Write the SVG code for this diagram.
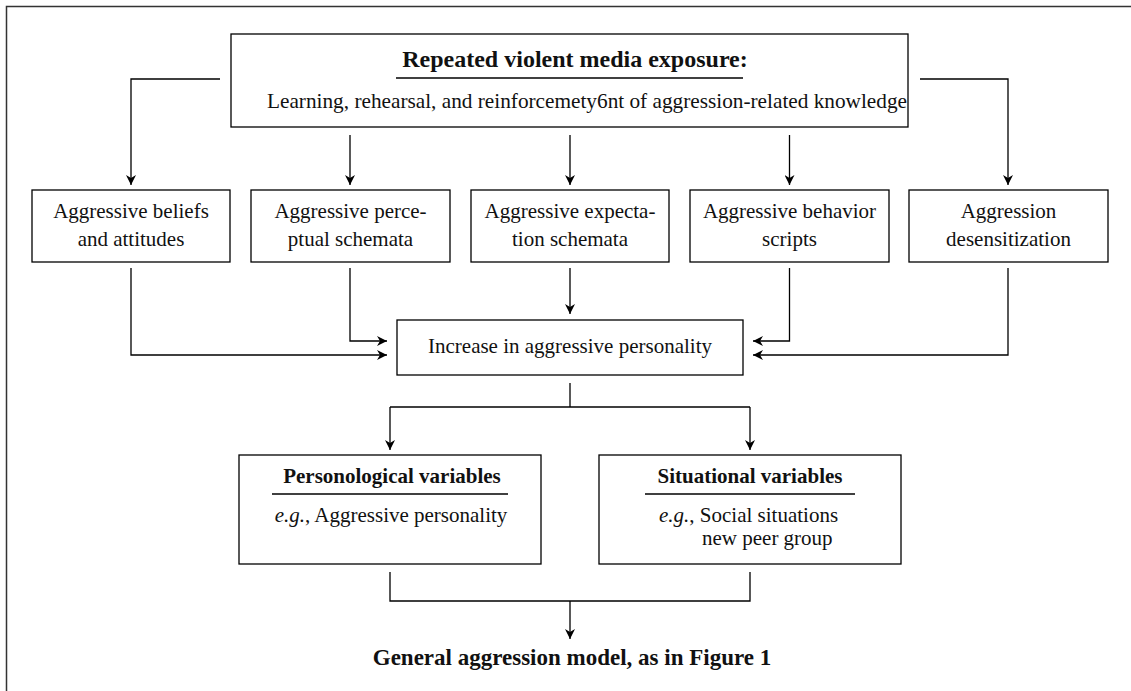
<svg xmlns="http://www.w3.org/2000/svg" width="1131" height="691" viewBox="0 0 1131 691">
<defs>
<marker id="ah" viewBox="0 0 10 10" refX="10" refY="5" markerWidth="10" markerHeight="10" markerUnits="userSpaceOnUse" orient="auto">
<path d="M0,0 L10,5 L0,10 L3,5 Z" fill="#000"/>
</marker>
<style>
.box{fill:#fff;stroke:#000;stroke-width:1.3}
.ln{fill:none;stroke:#000;stroke-width:1.3}
.arr{fill:none;stroke:#000;stroke-width:1.3;marker-end:url(#ah)}
text{font-family:"Liberation Serif","Times New Roman",serif;fill:#111;font-size:21px}
.c{text-anchor:middle}
.b{font-weight:bold}
.t24{font-size:24px}
.t23{font-size:23px}
.ul{stroke:#000;stroke-width:1.5}
</style>
</defs>
<rect width="1131" height="691" fill="#fff"/>
<g id="frame">
<path d="M6.5,691 V6.5 H1131" fill="none" stroke="#333" stroke-width="1.5"/>
</g>
<g id="connectors">
<path class="arr" d="M220,79 H131 V185"/>
<path class="arr" d="M350,135 V185"/>
<path class="arr" d="M570,135 V185"/>
<path class="arr" d="M789.5,135 V185"/>
<path class="arr" d="M920,79 H1008 V185"/>
<path class="arr" d="M131,268 V355 H387"/>
<path class="arr" d="M350,268 V341 H387"/>
<path class="arr" d="M570,268 V314"/>
<path class="arr" d="M789.5,268 V341 H753"/>
<path class="arr" d="M1008,268 V355 H753"/>
<path class="ln" d="M570,383 V407"/>
<path class="ln" d="M390,407 H750"/>
<path class="arr" d="M390,407 V450"/>
<path class="arr" d="M750,407 V450"/>
<path class="ln" d="M390,572 V601 H750 V572"/>
<path class="arr" d="M570,601 V639"/>
</g>
<g id="top">
<rect class="box" x="231" y="34" width="677" height="93"/>
<text class="c b t24" x="575" y="67">Repeated violent media exposure:</text>
<line class="ul" x1="396" y1="78" x2="743" y2="78"/>
<text x="267" y="108" textLength="640" lengthAdjust="spacingAndGlyphs">Learning, rehearsal, and reinforcemety6nt of aggression-related knowledge</text>
</g>
<g id="beliefs">
<rect class="box" x="32" y="190" width="198" height="72"/>
<text class="c" x="131" y="218">Aggressive beliefs</text>
<text class="c" x="131" y="246">and attitudes</text>
</g>
<g id="perceptual">
<rect class="box" x="251" y="190" width="199" height="72"/>
<text class="c" x="350.5" y="218">Aggressive perce-</text>
<text class="c" x="350.5" y="246">ptual schemata</text>
</g>
<g id="expectation">
<rect class="box" x="471" y="190" width="198" height="72"/>
<text class="c" x="570" y="218">Aggressive expecta-</text>
<text class="c" x="570" y="246">tion schemata</text>
</g>
<g id="scripts">
<rect class="box" x="690" y="190" width="199" height="72"/>
<text class="c" x="789.5" y="218">Aggressive behavior</text>
<text class="c" x="789.5" y="246">scripts</text>
</g>
<g id="desensitization">
<rect class="box" x="909" y="190" width="199" height="72"/>
<text class="c" x="1008.5" y="218">Aggression</text>
<text class="c" x="1008.5" y="246">desensitization</text>
</g>
<g id="increase">
<rect class="box" x="397" y="320" width="346" height="55"/>
<text class="c" x="570" y="353">Increase in aggressive personality</text>
</g>
<g id="personological">
<rect class="box" x="239" y="455" width="302" height="109"/>
<text class="c b" x="392" y="483">Personological variables</text>
<line class="ul" x1="272" y1="494" x2="508" y2="494"/>
<text class="c" x="391" y="522"><tspan font-style="italic">e.g.</tspan>, Aggressive personality</text>
</g>
<g id="situational">
<rect class="box" x="599" y="455" width="302" height="109"/>
<text class="c b" x="750" y="483">Situational variables</text>
<line class="ul" x1="645" y1="494" x2="855" y2="494"/>
<text x="659" y="522"><tspan font-style="italic">e.g.</tspan>, Social situations</text>
<text x="702" y="545">new peer group</text>
</g>
<g id="gam">
<text class="c b t23" x="572" y="665">General aggression model, as in Figure 1</text>
</g>
</svg>
